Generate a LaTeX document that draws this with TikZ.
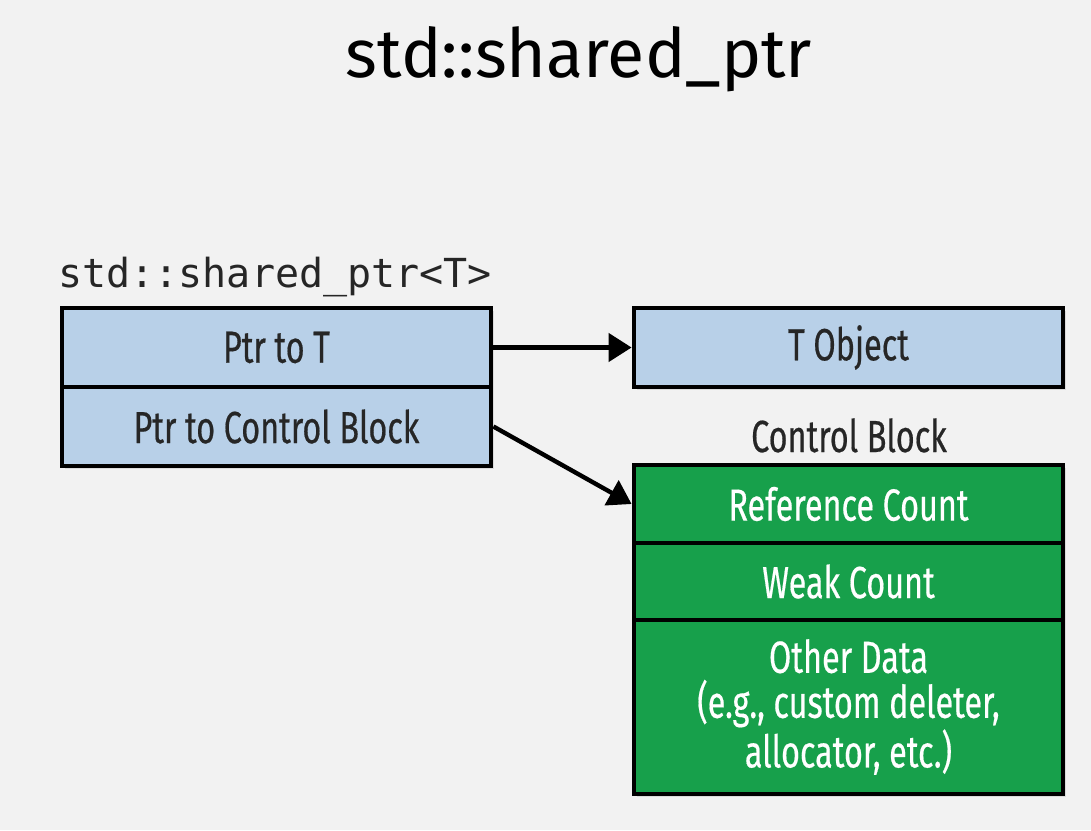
\documentclass[tikz,border=0pt]{standalone}
\usepackage{fontspec}
\setmainfont{Fira Sans}
\newfontfamily\boxfont[FakeStretch=0.72,FakeBold=0.4]{Fira Sans}
\newfontfamily\codefont{DejaVu Sans Mono}
\usetikzlibrary{arrows.meta,shadows}
\definecolor{ptrblue}{HTML}{B8D0E8}
\definecolor{cbgreen}{HTML}{17A04B}
\definecolor{bggray}{HTML}{F2F2F2}

\begin{document}
\begin{tikzpicture}[x=.5pt,y=-.5pt,
  row/.style={draw=black,line width=2.4pt,minimum width=214.5pt,inner sep=0pt,align=center,
    font=\boxfont\fontsize{22.5}{22.5}\selectfont,
    drop shadow={shadow xshift=1.5pt,shadow yshift=-1.5pt,opacity=.2}},
  ptrrow/.style={row,fill=ptrblue,text=black!85},
  cbrow/.style={row,fill=cbgreen,text=white},
  arr/.style={line width=2.2pt,-{Triangle[length=11.5pt,width=14pt]}}]
\fill[bggray] (0,0) rectangle (1091,830);
%
\node[anchor=base,inner sep=0pt,font=\fontsize{34}{36}\selectfont] (title) at (579,77) {std::shared\_ptr};
\node[anchor=base west,inner sep=0pt,font=\codefont\fontsize{20}{22}\selectfont,text=black!85] (sptr) at (58,287) {std::shared\_ptr<T>};
%
\node[ptrrow,minimum height=39.5pt] (ptrT) at (276.5,347.5) {Ptr to T};
\node[ptrrow,minimum height=39.5pt] (ptrcb) at (276.5,426.5) {Ptr to Control Block};
\node[ptrrow,minimum height=39.5pt] (tobj) at (848.5,347.5) {T Object};
%
\node[anchor=base,inner sep=0pt,font=\boxfont\fontsize{22.5}{22.5}\selectfont,text=black!85] (cblabel) at (849,452) {Control Block};
\node[cbrow,minimum height=39pt] (refc) at (848.5,504) {Reference Count};
\node[cbrow,minimum height=38.5pt] (weak) at (848.5,581.5) {Weak Count};
\node[cbrow,minimum height=87pt] (other) at (848.5,707) {Other Data\\(e.g., custom deleter,\\allocator, etc.)};
%
\draw[arr] (ptrT.east) -- (tobj.west);
\draw[arr] (ptrcb.east) -- (refc.west);
\end{tikzpicture}
\end{document}
